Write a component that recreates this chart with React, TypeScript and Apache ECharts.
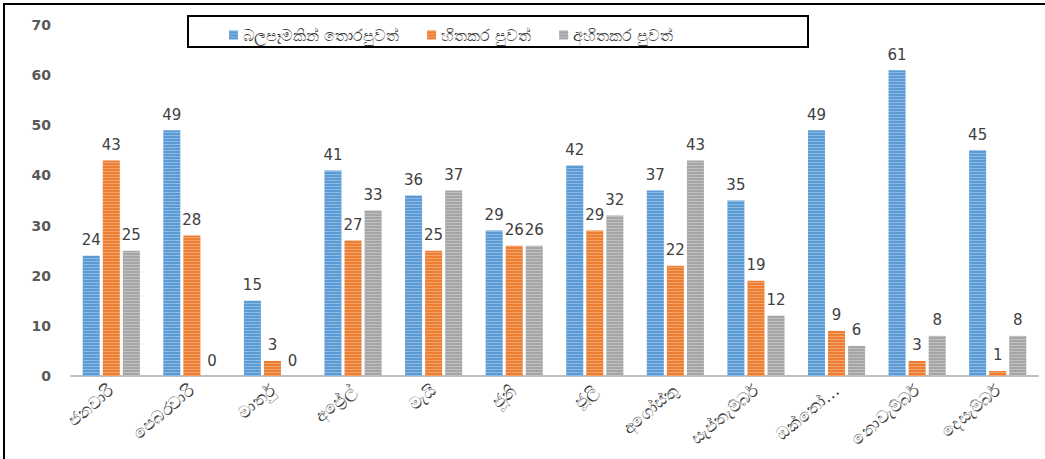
import React, { useEffect, useRef } from "react";
import * as echarts from "echarts";

const categories = [
  "ජනවාරි",
  "පෙබරවාරි",
  "මාර්තු",
  "අප්‍රේල්",
  "මැයි",
  "ජූනි",
  "ජූලි",
  "අගෝස්තු",
  "සැප්තැම්බර්",
  "ඔක්තෝ…",
  "නොවැම්බර්",
  "දෙසැම්බර්",
];
const seriesNames = ["බලපෑමකින් තොරපුවත්", "හිතකර පුවත්", "අහිතකර පුවත්"];
const neutralValues = [24, 49, 15, 41, 36, 29, 42, 37, 35, 49, 61, 45];
const positiveValues = [43, 28, 3, 27, 25, 26, 29, 22, 19, 9, 3, 1];
const negativeValues = [25, 0, 0, 33, 37, 26, 32, 43, 12, 6, 8, 8];
const colors = ["#5B9BD5", "#ED7D31", "#A5A5A5"];

const FONT = "'DejaVu Sans', 'Noto Sans', sans-serif";

export default function App() {
  const ref = useRef<HTMLDivElement>(null);
  useEffect(() => {
    if (!ref.current) return;
    const chart = echarts.init(ref.current, null, { renderer: "svg" });
    const decal = {
      symbol: "rect",
      symbolSize: 1,
      dashArrayX: [1, 0],
      dashArrayY: [1, 2],
      color: "rgba(255,255,255,0.3)",
    };
    const mk = (name: string, data: number[], color: string) => ({
      name,
      type: "bar",
      data,
      barWidth: 17,
      barGap: "18%",
      itemStyle: { color, decal },
      label: {
        show: true,
        position: "top",
        distance: 8,
        color: "#404040",
        fontSize: 15,
        fontFamily: FONT,
      },
    });
    chart.setOption({
      animation: false,
      aria: { enabled: false, decal: { show: true } },
      graphic: [
        {
          type: "rect",
          shape: { x: 4, y: 4, width: 1060, height: 470 },
          style: { fill: "none", stroke: "#000", lineWidth: 2 },
          silent: true,
        },
        {
          type: "rect",
          shape: { x: 188, y: 16, width: 620, height: 31 },
          style: { fill: "none", stroke: "#000", lineWidth: 2 },
          silent: true,
        },
      ],
      legend: {
        left: 224,
        top: 22,
        itemWidth: 9,
        itemHeight: 9,
        itemGap: 28,
        icon: "rect",
        textStyle: { color: "#404040", fontSize: 16, fontFamily: FONT },
        data: seriesNames,
      },
      grid: { left: 71, right: 7, top: 25, bottom: 83 },
      xAxis: {
        type: "category",
        data: categories,
        axisLine: { lineStyle: { color: "#BFBFBF", width: 2 } },
        axisTick: { show: false },
        axisLabel: {
          interval: 0,
          rotate: 40,
          margin: 12,
          color: "#404040",
          fontSize: 17,
          fontFamily: FONT,
        },
      },
      yAxis: {
        type: "value",
        min: 0,
        max: 70,
        interval: 10,
        splitLine: { show: false },
        axisLine: { show: false },
        axisTick: { show: false },
        axisLabel: {
          color: "#595959",
          fontSize: 14,
          fontWeight: "bold",
          margin: 20,
          fontFamily: FONT,
        },
      },
      series: [
        mk(seriesNames[0], neutralValues, colors[0]),
        mk(seriesNames[1], positiveValues, colors[1]),
        mk(seriesNames[2], negativeValues, colors[2]),
      ],
    });
    return () => chart.dispose();
  }, []);
  return <div ref={ref} style={{ width: 1045, height: 459, position: "absolute", left: 0, top: 0 }} />;
}
